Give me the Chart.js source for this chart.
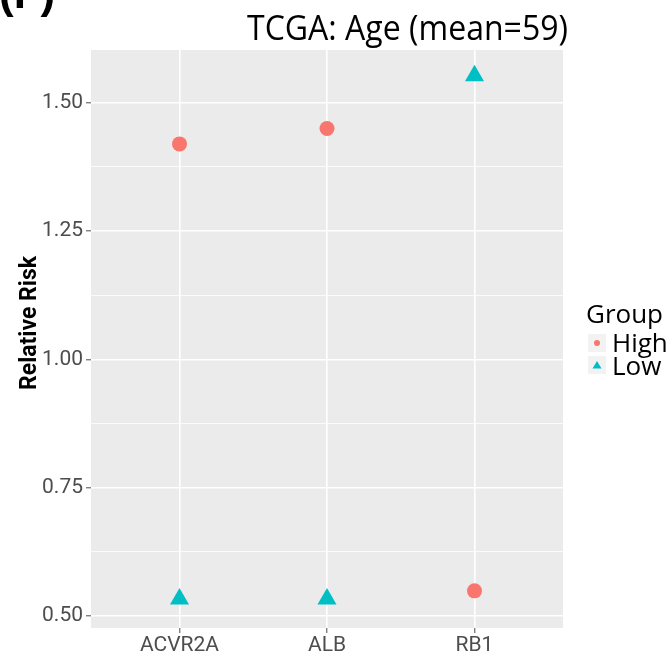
<!DOCTYPE html>
<html>
<head>
<meta charset="utf-8">
<script src="https://cdn.jsdelivr.net/npm/chart.js@4"></script>
<style>
  html, body { margin: 0; padding: 0; background: #fff; }
  #wrap { width: 672px; height: 656px; }
</style>
</head>
<body>
<div id="wrap"><canvas id="c" width="672" height="656"></canvas></div>
<script>
// data
const genes = ['ACVR2A', 'ALB', 'RB1'];
const highRisk = [1.42, 1.45, 0.549];
const lowRisk = [0.533, 0.533, 1.553];
const yMajor = [0.5, 0.75, 1.0, 1.25, 1.5];
const yMinor = [0.625, 0.875, 1.125, 1.375];

const RED = '#F8766D', TEAL = '#00BFC4';

function pts(vals) {
    return vals.map((v, i) => ({x: i + 1, y: v}));
}

// panel background, title, panel letter, y title and legend
const decor = {
    id: 'decor',
    beforeDraw(chart) {
        const {ctx, chartArea: a} = chart;
        ctx.save();
        ctx.fillStyle = '#EBEBEB';
        ctx.fillRect(a.left, a.top, a.right - a.left, a.bottom - a.top);
        ctx.restore();
    },
    afterDraw(chart) {
        const ctx = chart.ctx;
        ctx.save();
        ctx.fillStyle = '#000';
        // "(F)" cut off at the top
        ctx.font = 'bold 44px "Liberation Sans"';
        ctx.textBaseline = 'alphabetic';
        ctx.fillText('(F)', -1, 8);

        // title, squeezed to the narrow look
        ctx.font = '34px "Open Sans"';
        let t = 'TCGA: Age (mean=59)';
        let w = ctx.measureText(t).width;
        ctx.translate(247, 40);
        ctx.scale(321 / w, 1);
        ctx.fillText(t, 0, 0);
        ctx.restore();

        // y axis title
        ctx.save();
        ctx.translate(36, 323);
        ctx.rotate(-Math.PI / 2);
        ctx.fillStyle = '#000';
        ctx.font = 'bold 23px Roboto';
        ctx.textAlign = 'center';
        ctx.textBaseline = 'alphabetic';
        ctx.fillText('Relative Risk', 0, 0);
        ctx.restore();

        // legend
        ctx.save();
        ctx.fillStyle = '#000';
        ctx.font = '26px "Open Sans"';
        ctx.fillText('Group', 586, 323);
        ctx.fillStyle = '#F2F2F2';
        ctx.fillRect(588, 334, 18, 18);
        ctx.fillRect(588, 356, 18, 18);
        ctx.fillStyle = RED;
        ctx.beginPath();
        ctx.arc(597, 343, 3, 0, Math.PI * 2);
        ctx.fill();
        ctx.fillStyle = TEAL;
        ctx.beginPath();
        ctx.moveTo(597, 361);
        ctx.lineTo(601.5, 368.5);
        ctx.lineTo(592.5, 368.5);
        ctx.closePath();
        ctx.fill();
        ctx.fillStyle = '#000';
        ctx.fillText('High', 612, 352);
        ctx.fillText('Low', 612, 375);
        ctx.restore();
    }
};

new Chart(document.getElementById('c').getContext('2d'), {
    type: 'scatter',
    data: {
        datasets: [
            {label: 'High', data: pts(highRisk), pointStyle: 'circle', pointRadius: 7.5,
             backgroundColor: RED, borderColor: RED, borderWidth: 0},
            {label: 'Low', data: pts(lowRisk), pointStyle: 'triangle', pointRadius: 11,
             backgroundColor: TEAL, borderColor: TEAL, borderWidth: 0}
        ]
    },
    options: {
        responsive: false,
        animation: false,
        events: [],
        layout: {padding: {top: 50, right: 109, left: 0, bottom: 0}},
        plugins: {legend: {display: false}, tooltip: {enabled: false}},
        scales: {
            x: {
                type: 'linear', min: 0.4, max: 3.6,
                afterBuildTicks: s => { s.ticks = genes.map((g, i) => ({value: i + 1})); },
                afterFit: s => { s.height = 28; },
                ticks: {
                    callback: (v) => genes[v - 1] || '',
                    color: '#4D4D4D', padding: 0,
                    font: {family: 'Roboto', size: 21}
                },
                grid: {color: '#FFFFFF', lineWidth: 1.6, tickLength: 5, tickColor: '#4D4D4D', tickWidth: 1},
                border: {display: false}
            },
            y: {
                min: 0.4766, max: 1.603,
                afterBuildTicks: s => {
                    s.ticks = yMajor.concat(yMinor).sort((a, b) => a - b).map(v => ({value: v}));
                },
                afterFit: s => { s.width = 91; },
                ticks: {
                    callback: v => yMajor.includes(v) ? v.toFixed(2) : '',
                    color: '#4D4D4D', padding: 3,
                    font: {family: 'Roboto', size: 21}
                },
                grid: {
                    color: '#FFFFFF',
                    lineWidth: c => yMajor.includes(c.tick && c.tick.value) ? 1.6 : 0.8,
                    tickLength: 5,
                    tickColor: c => yMajor.includes(c.tick && c.tick.value) ? '#4D4D4D' : 'rgba(0,0,0,0)',
                    tickWidth: 1
                },
                border: {display: false}
            }
        }
    },
    plugins: [decor]
});
</script>
</body>
</html>
